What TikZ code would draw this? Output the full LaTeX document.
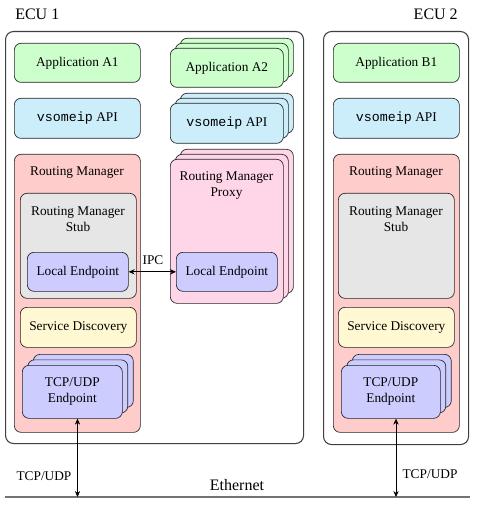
\documentclass[tikz,border=0pt]{standalone}
\usepackage{fontspec}
\setmainfont{Liberation Serif}
\setmonofont{Liberation Mono}
\usetikzlibrary{shadows,arrows.meta}
\definecolor{appgreen}{HTML}{CCFFCC}
\definecolor{apiblue}{HTML}{CCEEFB}
\definecolor{rmred}{HTML}{FFCCCC}
\definecolor{stubgray}{HTML}{E6E6E6}
\definecolor{epblue}{HTML}{CCCCFF}
\definecolor{sdyellow}{HTML}{FFF8D2}
\definecolor{proxypink}{HTML}{FFD6E8}
\begin{document}
\begin{tikzpicture}[x=0.75pt,y=-0.75pt,
  box/.style={draw=black!85, line width=0.5pt, rounded corners=5pt, anchor=north west, inner sep=0pt, align=center},
  ecubox/.style={draw=black!75, line width=0.8pt, rounded corners=6pt, anchor=north west, inner sep=0pt},
  stack/.style={double copy shadow={shadow xshift=3.75pt, shadow yshift=3.75pt}},
  tcpstack/.style={double copy shadow={shadow xshift=4.1pt, shadow yshift=4.1pt}},
  txt/.style={inner sep=0pt, align=center},
  conn/.style={{Stealth[length=4.5pt,width=4pt]}-{Stealth[length=4.5pt,width=4pt]}, line width=0.6pt, black}]
\useasboundingbox (0,0) rectangle (476,513);

% ECU frames
\node[ecubox, minimum width=223.5pt, minimum height=309pt] (ecu1) at (5,31) {};
\node[ecubox, minimum width=108.75pt, minimum height=309.75pt] (ecu2) at (323,31) {};
\node[txt, font=\large, anchor=west] (ecu1lbl) at (15,14) {ECU 1};
\node[txt, font=\large, anchor=east] (ecu2lbl) at (458,14) {ECU 2};

% ECU 1, left column
\node[box, fill=appgreen, minimum width=94.5pt, minimum height=29.25pt] (a1) at (14,43) {Application A1};
\node[box, fill=apiblue, minimum width=94.5pt, minimum height=30pt] (api1) at (14,98) {\texttt{vsomeip} API};
\node[box, fill=rmred, minimum width=94.5pt, minimum height=208.5pt] (rm1) at (14,154) {};
\node[txt] (rm1lbl) at (77,173) {Routing Manager};
\node[box, fill=stubgray, minimum width=87pt, minimum height=78.75pt] (stub1) at (20,193) {};
\node[txt] (stub1lbl) at (78,219.5) {Routing Manager\\Stub};
\node[box, fill=epblue, minimum width=75.75pt, minimum height=29.25pt] (le1) at (27,252) {Local Endpoint};
\node[box, fill=sdyellow, minimum width=87pt, minimum height=30pt] (sd1) at (20,307) {Service Discovery};
\node[box, tcpstack, fill=epblue, minimum width=75pt, minimum height=39.75pt] (tcp1) at (22,365) {TCP/UDP\\Endpoint};

% ECU 1, right column
\node[box, stack, fill=appgreen, minimum width=84.75pt, minimum height=29.25pt] (a2) at (170,48) {Application A2};
\node[box, stack, fill=apiblue, minimum width=84.75pt, minimum height=30pt] (api2) at (170,103) {\texttt{vsomeip} API};
\node[box, stack, fill=proxypink, minimum width=84.75pt, minimum height=108pt] (proxy) at (170,159) {};
\node[txt] (proxylbl) at (226.5,185.5) {Routing Manager\\Proxy};
\node[box, fill=epblue, minimum width=75.75pt, minimum height=29.25pt] (le2) at (176,252) {Local Endpoint};

% IPC
\draw[conn] (le1.east) -- (le2.west);
\node[txt] (ipc) at (153,260) {IPC};

% ECU 2
\node[box, fill=appgreen, minimum width=94.5pt, minimum height=29.25pt] (b1) at (333,43) {Application B1};
\node[box, fill=apiblue, minimum width=94.5pt, minimum height=30pt] (api3) at (333,98) {\texttt{vsomeip} API};
\node[box, fill=rmred, minimum width=94.5pt, minimum height=208.5pt] (rm2) at (333,154) {};
\node[txt] (rm2lbl) at (396,173) {Routing Manager};
\node[box, fill=stubgray, minimum width=87pt, minimum height=78.75pt] (stub2) at (338,193) {};
\node[txt] (stub2lbl) at (396,219.5) {Routing Manager\\Stub};
\node[box, fill=sdyellow, minimum width=87pt, minimum height=30pt] (sd2) at (338,307) {Service Discovery};
\node[box, tcpstack, fill=epblue, minimum width=74.25pt, minimum height=39.75pt] (tcp2) at (341,365) {TCP/UDP\\Endpoint};

% Ethernet
\coordinate (ethw) at (5,497);
\coordinate (ethe) at (470,497);
\coordinate (eth1) at (77.5,497);
\coordinate (eth2) at (396,497);
\draw[black!55, line width=1.5pt] (ethw) -- (ethe);
\node[txt, font=\large] (ethlbl) at (237,485) {Ethernet};
\draw[conn] (tcp1.south -| eth1) -- (eth1);
\draw[conn] (tcp2.south -| eth2) -- (eth2);
\node[txt] (tcplbl1) at (44,476) {TCP/UDP};
\node[txt] (tcplbl2) at (430,474) {TCP/UDP};
\end{tikzpicture}
\end{document}
